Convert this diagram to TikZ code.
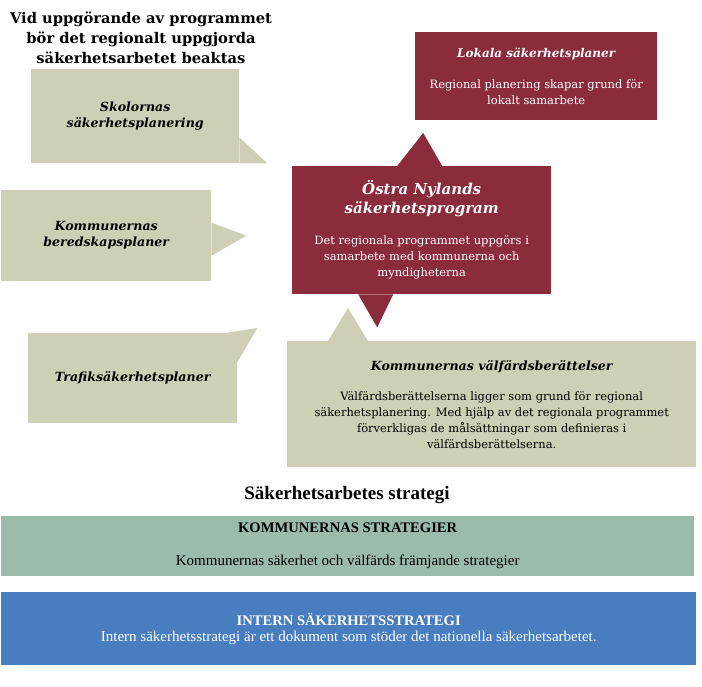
\documentclass[tikz,border=0pt]{standalone}
\usepackage{fontspec}
\setmainfont{Liberation Serif}
\newfontfamily\headfont{DejaVu Serif}
\usetikzlibrary{positioning}
\definecolor{sand}{RGB}{207,207,181}
\definecolor{wine}{RGB}{139,44,60}
\definecolor{sage}{RGB}{155,187,171}
\definecolor{steel}{RGB}{72,126,192}
\tikzset{sand box/.style={fill=sand,anchor=north west,inner sep=0pt,align=center,font=\headfont\fontsize{12.6}{16}\selectfont\bfseries\itshape},
wine box/.style={fill=wine,text=white,anchor=north west,inner sep=0pt,align=center,font=\boxbody},
band/.style={anchor=north west,inner sep=0pt,align=center,font=\fontsize{15}{16}\selectfont},}
\newcommand{\titlefont}[1]{\headfont\bfseries\itshape\fontsize{#1}{20}\selectfont}
\newcommand{\boxbody}{\headfont\mdseries\upshape\fontsize{11.5}{16}\selectfont}
\newcommand{\bandtitle}{\bfseries\fontsize{14.6}{16}\selectfont}

\begin{document}
\begin{tikzpicture}[x=1pt, y=-1pt]
	\useasboundingbox (0,0) rectangle (702,687);
	\node[align=center, font=\headfont\fontsize{14.7}{20}\selectfont\bfseries] (heading) at (141,38) {Vid uppgörande av programmet\\bör det regionalt uppgjorda\\säkerhetsarbetet beaktas};

	% left callouts
	\node[sand box, minimum width=208, minimum height=94] (skol) at (31,69) {Skolornas\\säkerhetsplanering};
	\node[sand box, minimum width=210, minimum height=91] (bered) at (1,190) {Kommunernas\\beredskapsplaner};
	\node[sand box, minimum width=209, minimum height=90] (trafik) at (28,333) {Trafiksäkerhetsplaner};
	\fill[sand] ([yshift=26pt]skol.south east) -- ([xshift=28pt]skol.south east) -- (skol.south east) -- cycle;
	\fill[sand] ([yshift=13pt]bered.east) -- ([xshift=35pt]bered.east) -- ([yshift=-20pt]bered.east) -- cycle;
	\fill[sand] ([xshift=-12pt]trafik.north east) -- ([xshift=20pt,yshift=5pt]trafik.north east) -- ([yshift=-29pt]trafik.north east) -- cycle;

	% programme and local plans
	\node[wine box, minimum width=242, minimum height=88] (lokal) at (415,32) {\titlefont{12}Lokala säkerhetsplaner\\[15pt]Regional planering skapar grund för\\lokalt samarbete};
	\node[wine box, minimum width=259, minimum height=128] (prog) at (292,166) {\titlefont{15}Östra Nylands\\[3pt]\titlefont{15}säkerhetsprogram\\[15pt]Det regionala programmet uppgörs i\\samarbete med kommunerna och\\myndigheterna};
	\fill[wine] ([xshift=-24.5pt]prog.north) -- ([xshift=1.5pt,yshift=33pt]prog.north) -- ([xshift=20.5pt]prog.north) -- cycle;
	\fill[wine] ([xshift=-63.5pt]prog.south) -- ([xshift=-44.5pt,yshift=-33pt]prog.south) -- ([xshift=-28.5pt]prog.south) -- cycle;

	% welfare reports
	\node[sand box, font=\boxbody, minimum width=409, minimum height=126] (valf) at (287,341) {\titlefont{12.6}Kommunernas välfärdsberättelser\\[14pt]Välfärdsberättelserna ligger som grund för regional\\säkerhetsplanering. Med hjälp av det regionala programmet\\förverkligas de målsättningar som definieras i\\välfärdsberättelserna.};
	\fill[sand] ([xshift=41pt]valf.north west) -- ([xshift=61pt,yshift=33pt]valf.north west) -- ([xshift=81pt]valf.north west) -- cycle;

	% strategies
	\node[font=\fontsize{19}{20}\selectfont\bfseries] (strat) at (347,495) {Säkerhetsarbetes strategi};
	\node[band, fill=sage, minimum width=693, minimum height=60] (kommun) at (1,516) {\bandtitle KOMMUNERNAS STRATEGIER\\[17pt]Kommunernas säkerhet och välfärds främjande strategier};
	\node[band, fill=steel, text=white, minimum width=695, minimum height=73] (intern) at (1,592) {\bandtitle INTERN SÄKERHETSSTRATEGI\\Intern säkerhetsstrategi är ett dokument som stöder det nationella säkerhetsarbetet.};
\end{tikzpicture}
\end{document}
